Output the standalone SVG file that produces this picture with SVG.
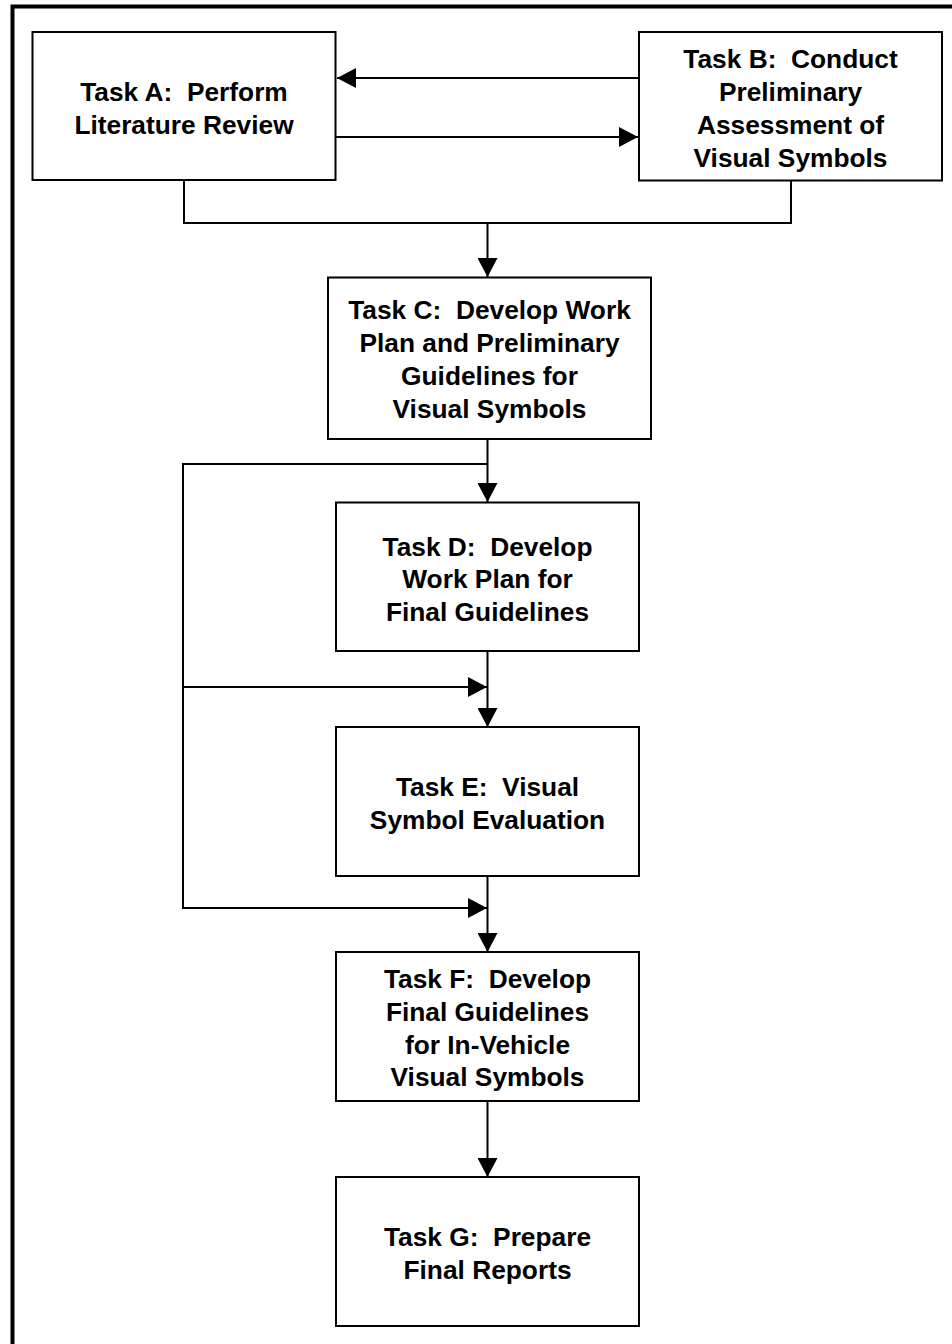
<svg xmlns="http://www.w3.org/2000/svg" width="952" height="1344" viewBox="0 0 952 1344">
<style>
.box{fill:#fff;stroke:#000;stroke-width:2}
.lbl{font-family:"Liberation Sans",Arial,sans-serif;font-weight:bold;font-size:26.3px;fill:#000;text-anchor:middle;white-space:pre}
.c{fill:none;stroke:#000;stroke-width:2}
.frame{fill:none;stroke:#000;stroke-width:4}
</style>
<defs>
<marker id="ah" viewBox="0 0 19 20" refX="19" refY="10" markerWidth="19" markerHeight="20" markerUnits="userSpaceOnUse" orient="auto">
<path d="M0 0 L19 10 L0 20 Z" fill="#000"/>
</marker>
</defs>
<rect width="952" height="1344" fill="#fff"/>
<path class="frame" d="M12.5 1344 V6.5 H952"/>
<g id="connectors">
<path class="c" d="M639 78 H337" marker-end="url(#ah)"/>
<path class="c" d="M335.5 137 H638" marker-end="url(#ah)"/>
<path class="c" d="M184 180 V223 H791 V180.5"/>
<path class="c" d="M487.5 223 V277" marker-end="url(#ah)"/>
<path class="c" d="M487.5 439 V502" marker-end="url(#ah)"/>
<path class="c" d="M487.5 464 H183 V908 H487" marker-end="url(#ah)"/>
<path class="c" d="M183 687 H487" marker-end="url(#ah)"/>
<path class="c" d="M487.5 651 V727" marker-end="url(#ah)"/>
<path class="c" d="M487.5 876 V952" marker-end="url(#ah)"/>
<path class="c" d="M487.5 1101 V1177" marker-end="url(#ah)"/>
</g>
<g id="taskA">
<rect class="box" x="32.5" y="32" width="303" height="148"/>
<text class="lbl" x="184" y="101">Task A:  Perform</text>
<text class="lbl" x="184" y="134">Literature Review</text>
</g>
<g id="taskB">
<rect class="box" x="639" y="32" width="303" height="148.5"/>
<text class="lbl" x="790.5" y="68">Task B:  Conduct</text>
<text class="lbl" x="790.5" y="101">Preliminary</text>
<text class="lbl" x="790.5" y="134">Assessment of</text>
<text class="lbl" x="790.5" y="167">Visual Symbols</text>
</g>
<g id="taskC">
<rect class="box" x="328" y="277.5" width="323" height="161.5"/>
<text class="lbl" x="489.5" y="318.5">Task C:  Develop Work</text>
<text class="lbl" x="489.5" y="351.5">Plan and Preliminary</text>
<text class="lbl" x="489.5" y="384.5">Guidelines for</text>
<text class="lbl" x="489.5" y="417.5">Visual Symbols</text>
</g>
<g id="taskD">
<rect class="box" x="336" y="502.5" width="303" height="148.5"/>
<text class="lbl" x="487.5" y="555.5">Task D:  Develop</text>
<text class="lbl" x="487.5" y="588">Work Plan for</text>
<text class="lbl" x="487.5" y="620.5">Final Guidelines</text>
</g>
<g id="taskE">
<rect class="box" x="336" y="727" width="303" height="149"/>
<text class="lbl" x="487.5" y="796">Task E:  Visual</text>
<text class="lbl" x="487.5" y="828.5">Symbol Evaluation</text>
</g>
<g id="taskF">
<rect class="box" x="336" y="952" width="303" height="149"/>
<text class="lbl" x="487.5" y="987.5">Task F:  Develop</text>
<text class="lbl" x="487.5" y="1020.5">Final Guidelines</text>
<text class="lbl" x="487.5" y="1053.5">for In-Vehicle</text>
<text class="lbl" x="487.5" y="1086">Visual Symbols</text>
</g>
<g id="taskG">
<rect class="box" x="336" y="1177" width="303" height="149"/>
<text class="lbl" x="487.5" y="1246">Task G:  Prepare</text>
<text class="lbl" x="487.5" y="1278.5">Final Reports</text>
</g>
</svg>
